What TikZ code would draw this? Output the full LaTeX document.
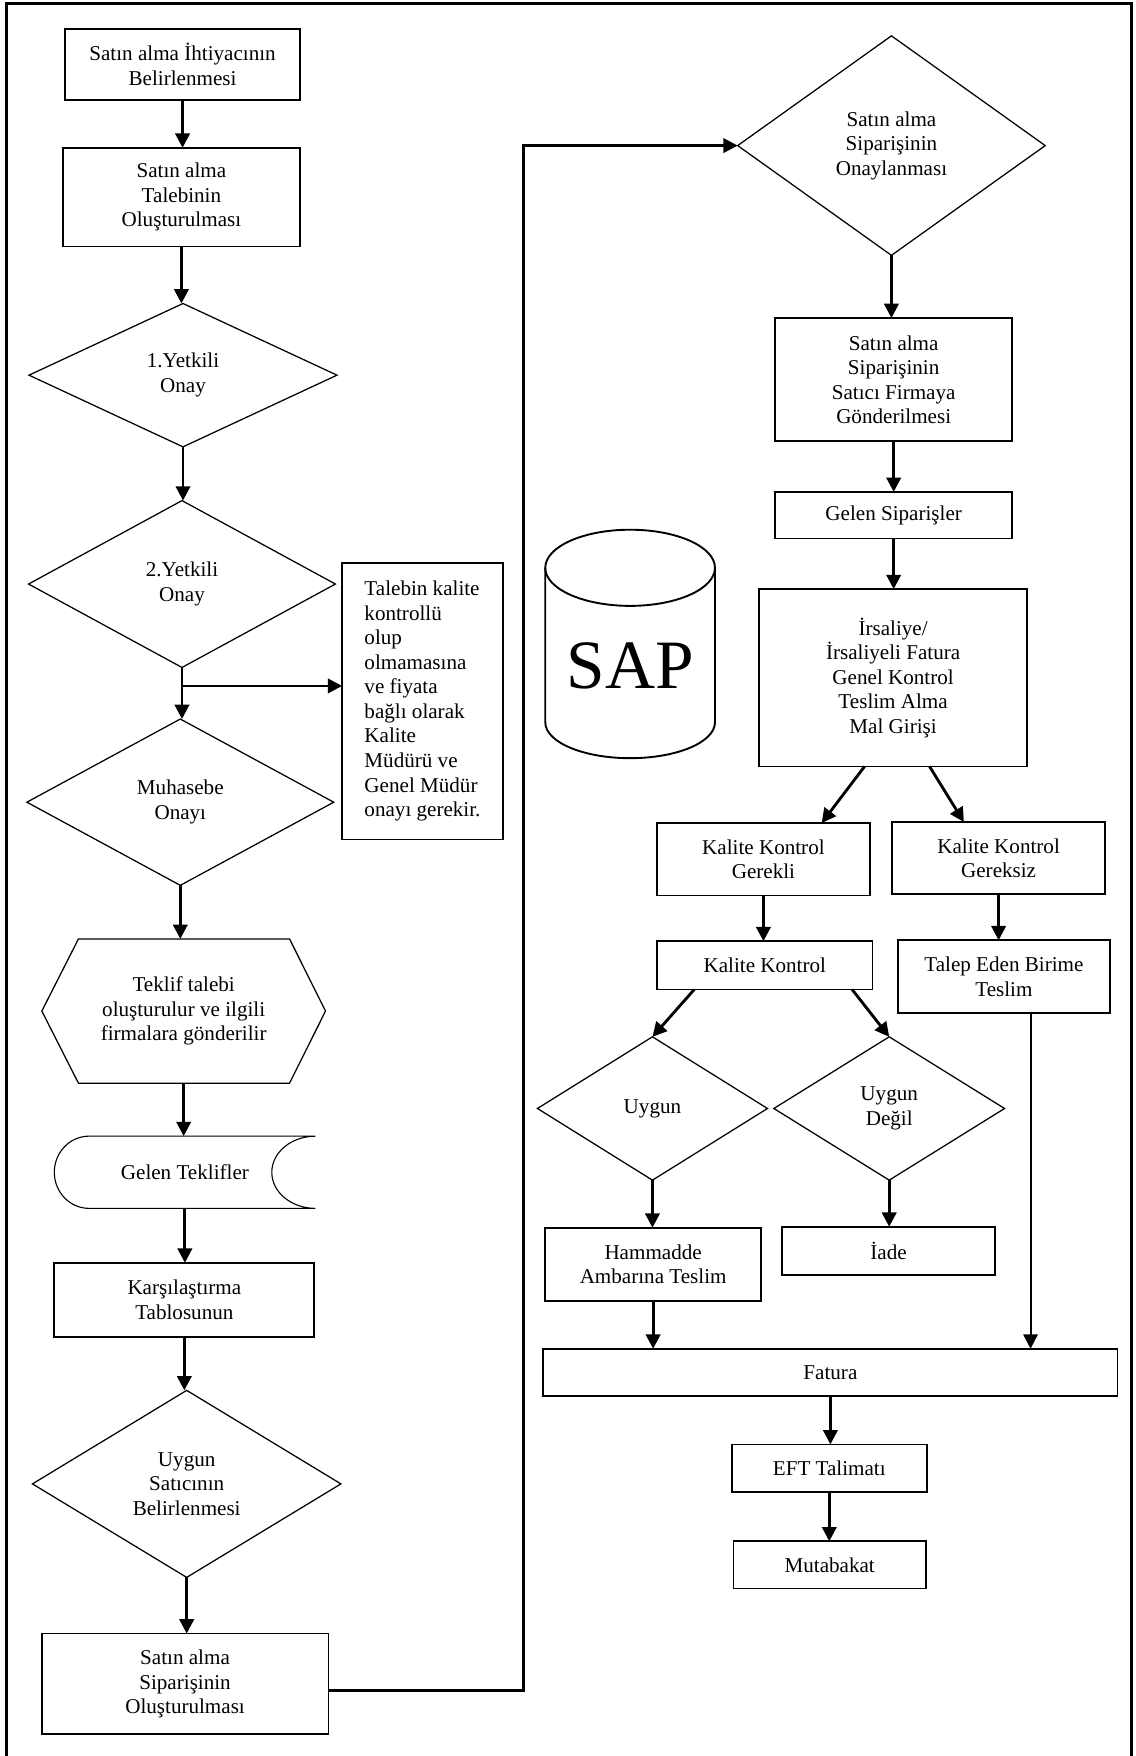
\documentclass[tikz,border=0pt]{standalone}
\usepackage{fontspec}
\setmainfont{Liberation Serif}
\usetikzlibrary{arrows.meta,shapes.geometric,calc}
\begin{document}
\begin{tikzpicture}[x=0.25mm, y=-0.25mm,
  lbl/.style={font=\fontsize{13.4}{15.6}\selectfont, align=center, inner sep=0pt, outer sep=0pt},
  proc/.style 2 args={lbl, draw, line width=1.1pt, rectangle, minimum width=#1*0.25mm, minimum height=#2*0.25mm},
  dec/.style 2 args={lbl, draw, line width=0.8pt, diamond, minimum width=#1*0.25mm, minimum height=#2*0.25mm},
  flow/.style={line width=1.8pt, -{Triangle[length=3.2mm,width=3.2mm]}},
  thinflow/.style={line width=1.3pt, -{Triangle[length=3.2mm,width=3.2mm]}},
]
\useasboundingbox (0,0) rectangle (1013.5,1568);

% outer frame
\draw[line width=1.6pt] (5.6,1575) -- (5.6,3.3) -- (1010.2,3.3) -- (1010.2,1575);

% ---------- left column ----------
\node[proc={210}{63}] (b1) at (163,57.5) {Satın alma İhtiyacının\\Belirlenmesi};
\node[proc={212}{88}] (b2) at (162,176) {Satın alma\\Talebinin\\Oluşturulması};
\node[dec={275}{128}] (d1) at (163.4,335) {1.Yetkili\\Onay};
\node[dec={274}{149}] (d2) at (162.5,521.5) {2.Yetkili\\Onay};
\node[dec={274}{148.5}] (d3) at (161,716.3) {Muhasebe\\Onayı};
\node[lbl, draw, line width=1.1pt, align=left, minimum width=143.5*0.25mm, minimum height=247*0.25mm] (note) at (377.25,626)
  {Talebin kalite\\kontrollü\\olup\\olmamasına\\ve fiyata\\bağlı olarak\\Kalite\\Müdürü ve\\Genel Müdür\\onayı gerekir.};

% preparation (hexagon)
\node[lbl, minimum width=253.3*0.25mm, minimum height=128.8*0.25mm] (hex) at (164,902.8)
  {Teklif talebi\\oluşturulur ve ilgili\\firmalara gönderilir};
\draw[line width=0.8pt] (hex.west) -- ($(hex.north west)+(32.7,0)$) -- ($(hex.north east)+(-32.1,0)$)
  -- (hex.east) -- ($(hex.south east)+(-32.1,0)$) -- ($(hex.south west)+(32.7,0)$) -- cycle;

% stored data
\node[lbl, minimum width=233.2*0.25mm, minimum height=64.5*0.25mm] (gt) at (165.1,1046.75) {Gelen Teklifler};
\draw[line width=0.7pt] (gt.north east) -- ($(gt.north west)+(31,0)$)
  arc[start angle=90, end angle=270, x radius=7.75mm, y radius=8.06mm]
  -- (gt.south east)
  arc[start angle=270, end angle=90, x radius=9.75mm, y radius=8.06mm];

\node[proc={232.2}{66}] (ka) at (164.6,1160.6) {Karşılaştırma\\Tablosunun};
\node[dec={275.4}{167}] (d4) at (166.7,1325) {Uygun\\Satıcının\\Belirlenmesi};
\node[proc={256}{90}] (last) at (165.25,1503.65) {Satın alma\\Siparişinin\\Oluşturulması};

% ---------- database ----------
\node[font=\fontsize{44}{50}\selectfont, inner sep=0pt] (sap) at (563,595) {SAP};
\draw[line width=1.2pt] (486.9,507) -- (486.9,645)
  arc[start angle=180, end angle=360, x radius=18.94mm, y radius=8mm] -- (638.4,507);
\draw[line width=1.2pt] (562.65,507) ellipse[x radius=18.94mm, y radius=8.5mm];

% ---------- right column ----------
\node[dec={274.6}{196}] (r1) at (796,130) {Satın alma\\Siparişinin\\Onaylanması};
\node[proc={211.4}{110}] (sf) at (798,339) {Satın alma\\Siparişinin\\Satıcı Firmaya\\Gönderilmesi};
\node[proc={211.4}{41.5}] (gs) at (798,460) {Gelen Siparişler};
\node[proc={239.7}{158.3}] (irs) at (797.5,605.2) {İrsaliye/\\İrsaliyeli Fatura\\Genel Kontrol\\Teslim Alma\\Mal Girişi};
\node[proc={190}{64.8}] (kkg) at (681.7,767.3) {Kalite Kontrol\\Gerekli};
\node[proc={190}{64.3}] (kkgz) at (891.7,766.2) {Kalite Kontrol\\Gereksiz};
\node[proc={192.3}{43.1}] (kk) at (682.9,862) {Kalite Kontrol};
\node[proc={189}{64.8}] (tal) at (896.4,872) {Talep Eden Birime\\Teslim};
\node[dec={205.4}{128}] (uy) at (582.6,989.8) {Uygun};
\node[dec={206}{128}] (ud) at (794,989.8) {Uygun\\Değil};
\node[proc={192.5}{65.5}] (ham) at (583.2,1129) {Hammadde\\Ambarına Teslim};
\node[proc={190.7}{43}] (iade) at (793.4,1116.9) {İade};
\node[proc={512.8}{42.3}] (fat) at (741.5,1225.5) {Fatura};
\node[proc={174}{42.3}] (eft) at (740.5,1310.9) {EFT Talimatı};
\node[proc={172}{42.2}] (mut) at (740.9,1397.4) {Mutabakat};

% ---------- connectors ----------
\draw[flow] (b1.south) -- (b1.south |- b2.north);
\draw[flow] (b2.south) -- (b2.south |- d1.north);
\draw[flow] (d1.south) -- (d1.south |- d2.north);
\draw[flow] (d2.south) -- (d2.south |- d3.north);
\path (d2.south) ++(0,16.5) coordinate (br);
\draw[flow] (br) -- (br -| note.west);
\draw[flow] (d3.south) -- (d3.south |- hex.north);
\draw[flow] (hex.south) -- (hex.south |- gt.north);
\draw[flow] (gt.south) -- (gt.south |- ka.north);
\draw[flow] (ka.south) -- (ka.south |- d4.north);
\draw[flow] (d4.south) -- (d4.south |- last.north);

\coordinate (out) at ($(last.east)+(0,6)$);
\coordinate (up) at (467.8,0);
\draw[flow] (out) -| (up |- r1.west) -- (r1.west);

\draw[flow] (r1.south) -- (r1.south |- sf.north);
\draw[flow] (sf.south) -- (sf.south |- gs.north);
\draw[flow] (gs.south) -- (gs.south |- irs.north);
\draw[flow] ($(irs.south)+(-25.5,0)$) -- ($(kkg.north)+(52,0)$);
\draw[flow] ($(irs.south)+(32.5,0)$) -- ($(kkgz.north)+(-31,0)$);
\draw[flow] (kkg.south) -- (kkg.south |- kk.north);
\draw[flow] (kkgz.south) -- (kkgz.south |- tal.north);
\draw[flow] ($(kk.south)+(-63,0)$) -- (uy.north);
\draw[flow] ($(kk.south)+(78,0)$) -- (ud.north);
\draw[flow] (uy.south) -- (uy.south |- ham.north);
\draw[flow] (ud.south) -- (ud.south |- iade.north);
\draw[flow] (ham.south) -- (ham.south |- fat.north);
\coordinate (tl) at ($(tal.south)+(23.8,0)$);
\draw[thinflow] (tl) -- (tl |- fat.north);
\draw[flow] (fat.south) -- (fat.south |- eft.north);
\draw[flow] (eft.south) -- (eft.south |- mut.north);
\end{tikzpicture}
\end{document}
